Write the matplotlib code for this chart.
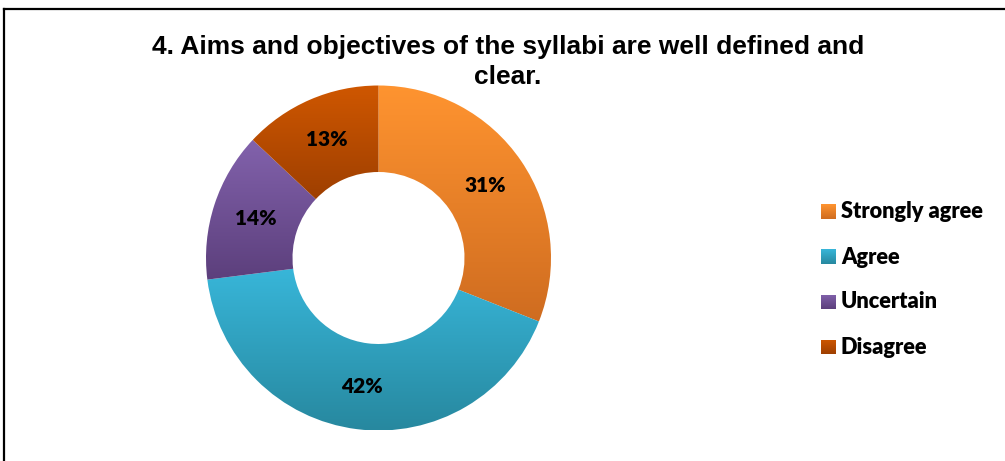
import numpy as np
import matplotlib.pyplot as plt
from matplotlib.colors import LinearSegmentedColormap
from matplotlib.lines import Line2D
from matplotlib.patches import Rectangle

# survey responses
labels = ['Strongly agree', 'Agree', 'Uncertain', 'Disagree']
percents = [31, 42, 14, 13]
# top / bottom shade of each slice
top_colors = ['#FF9430', '#38B6D9', '#8262AC', '#CF5700']
bottom_colors = ['#CF6C20', '#27889F', '#5C3F7C', '#9E3F00']
title = '4. Aims and objectives of the syllabi are well defined and\nclear.'

W, H = 1005, 461
fig = plt.figure(figsize=(W / 100, H / 100), dpi=100)
ax = fig.add_axes([0, 0, 1, 1])

cx, cy, r_out, r_in = 378.5, H - 258, 172.5, 86
wedges, _ = ax.pie(percents, radius=r_out, center=(cx, cy), startangle=90,
                   counterclock=False, frame=True,
                   wedgeprops=dict(width=r_out - r_in, linewidth=0))
ax.set_xlim(0, W)
ax.set_ylim(0, H)
ax.set_aspect('equal')
ax.axis('off')


def gradient_fill(patch, c0, c1, x0, x1, y0, y1):
    cmap = LinearSegmentedColormap.from_list('g', [c0, c1])
    grad = np.linspace(0, 1, 256).reshape(-1, 1)
    im = ax.imshow(grad, cmap=cmap, extent=(x0, x1, y0, y1), origin='upper',
                   aspect='auto', interpolation='bilinear', zorder=1)
    im.set_clip_path(patch)


# vertical gradient fill per slice
for w, c0, c1 in zip(wedges, top_colors, bottom_colors):
    w.set_facecolor('none')
    bb = w.get_path().get_extents(w.get_transform()).transformed(ax.transData.inverted())
    gradient_fill(w, c0, c1, bb.x0, bb.x1, bb.y0, bb.y1)

ax.set_xlim(0, W)
ax.set_ylim(0, H)

# percentage labels at the middle of the ring
angle = 90.0
rm = (r_out + r_in) / 2
for p in percents:
    mid = np.deg2rad(angle - p * 3.6 / 2)
    ax.text(cx + rm * np.cos(mid), cy + rm * np.sin(mid), f'{p}%',
            ha='center', va='center', fontsize=15, fontweight='heavy',
            family='Lato', zorder=3)
    angle -= p * 3.6

ax.text(508, H - 62, title, ha='center', va='center', fontsize=19,
        fontweight='bold', family='Liberation Sans', linespacing=1.32)

# legend with gradient swatches
for i, (lab, c0, c1) in enumerate(zip(labels, top_colors, bottom_colors)):
    yc = H - (212 + 45 * i)
    sw = Rectangle((821, yc - 7.5), 15, 15, facecolor='none', edgecolor='none')
    ax.add_patch(sw)
    gradient_fill(sw, c0, c1, 821, 836, yc - 7.5, yc + 7.5)
    ax.text(841, yc, lab, ha='left', va='center', fontsize=15.7,
            fontweight='heavy', family='Lato')

# frame lines on top and left
ax.add_line(Line2D([3.5, W], [H - 9, H - 9], color='black', lw=1.6))
ax.add_line(Line2D([3.5, 3.5], [0, H - 9], color='black', lw=1.6))

fig.savefig('out.png', dpi=100)
